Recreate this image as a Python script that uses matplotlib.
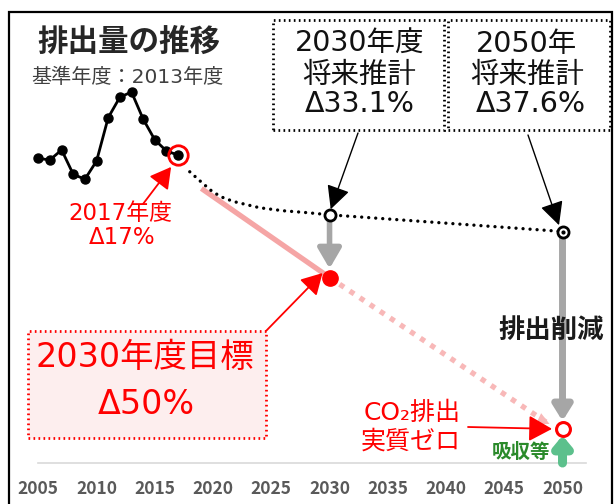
import matplotlib
matplotlib.use("Agg")
import matplotlib.pyplot as plt
from matplotlib.patches import Rectangle

plt.rcParams['font.family'] = ['DejaVu Sans', 'Noto Sans CJK JP']
JP = ['Noto Sans CJK JP', 'DejaVu Sans']
MIX = ['DejaVu Sans', 'Noto Sans CJK JP']

# ---------------- data ----------------
hist_years = [2005, 2006, 2007, 2008, 2009, 2010, 2011, 2012, 2013, 2014, 2015, 2016, 2017]
hist_vals = [82.1, 81.7, 84.4, 77.8, 76.5, 81.4, 93.1, 98.6, 100.0, 92.7, 87.1, 84.1, 83.0]

proj_years = [2018, 2019, 2020, 2021, 2022, 2024, 2026, 2028, 2030, 2050]
proj_vals = [78.5, 75.7, 73.0, 71.3, 70.3, 68.8, 68.0, 67.5, 66.9, 62.4]

target_years = [2030, 2050]
target_vals = [50.0, 9.2]          # 2030 target (Δ50%), 2050 net zero point

tick_years = [2005, 2010, 2015, 2020, 2025, 2030, 2035, 2040, 2045, 2050]
tick_labels = [str(y) for y in tick_years]

# ---------------- figure ----------------
W, H = 614, 504
fig = plt.figure(figsize=(W / 100, H / 100), dpi=100)
ax = fig.add_axes([0, 0, 1, 1])
ax.set_xlim(2001.71, 2054.42)
ax.set_ylim(-11.05, 124.8)
ax.axis('off')


def px(x, y):
    return (x / W, 1 - y / H)


FT = fig.transFigure
RED = '#ff0000'
PINK = '#f5a5a5'
PINK2 = '#f8b8b8'
GRAY = '#a6a6a6'
GREEN = '#5cc08c'

# outer frame
fig.patches.append(Rectangle(px(9, 506), (612 - 9) / W, (506 - 12) / H,
                             transform=FT, fill=False, ec='black', lw=1.6))

# baseline
ax.plot([2005, 2052], [0, 0], color='#d9d9d9', lw=1.2, zorder=1)

# tick labels
label_y = (463 - 489) / 3.71
for yr, lab in zip(tick_years, tick_labels):
    ax.text(yr, label_y, lab, ha='center', va='center', fontsize=12.5,
            fontweight='bold', color='#595959', family=['Noto Sans CJK JP', 'DejaVu Sans'])

# historical series
ax.plot(hist_years, hist_vals, color='black', lw=2, marker='o', ms=6.5, zorder=5)
ax.plot([hist_years[-1]], [hist_vals[-1]], marker='o', ms=14, mfc='none',
        mec=RED, mew=2, zorder=6)

# projection (dotted black curve)
ax.plot(proj_years, proj_vals, color='black', lw=2.4, linestyle=(0, (0.01, 2.1)),
        dash_capstyle='round', zorder=4)
ax.plot([2030], [proj_vals[proj_years.index(2030)]], marker='o', ms=8, mfc='white',
        mec='black', mew=2, zorder=6)
ax.plot([2050], [proj_vals[-1]], marker='o', ms=8, mfc='white', mec='black', mew=2, zorder=6)
ax.plot([2050], [proj_vals[-1]], marker='o', ms=2, color='black', zorder=7)

# pink target path
ax.plot([2019.0, target_years[0]], [74.0, target_vals[0]], color=PINK, lw=3.8,
        solid_capstyle='butt', zorder=3)
ax.plot([target_years[0], 2048.6], [target_vals[0], 11.0], color=PINK2, lw=3.8,
        linestyle=(0, (1.0, 1.3)), zorder=3)
ax.annotate('', xy=(2049.1, 10.2), xytext=(2048.3, 11.4),
            arrowprops=dict(arrowstyle='-|>', mutation_scale=22, color=PINK2, lw=0),
            zorder=3)

# gray arrows
ax.annotate('', xy=(2030, 52.4), xytext=(2030, 65.6),
            arrowprops=dict(arrowstyle='-|>,head_length=0.6,head_width=0.35',
                            mutation_scale=20, color=GRAY, lw=4, shrinkA=0, shrinkB=0),
            zorder=2)
ax.annotate('', xy=(2050, 11.3), xytext=(2050, 60.8),
            arrowprops=dict(arrowstyle='-|>,head_length=0.45,head_width=0.28',
                            mutation_scale=20, color=GRAY, lw=5, shrinkA=0, shrinkB=0),
            zorder=2)
# green arrow
ax.annotate('', xy=(2050, 7.4), xytext=(2050, 0),
            arrowprops=dict(arrowstyle='-|>,head_length=0.3,head_width=0.25',
                            mutation_scale=20, color=GREEN, lw=6.5, shrinkA=0, shrinkB=0),
            zorder=2)

# target markers
ax.plot([target_years[0]], [target_vals[0]], marker='o', ms=11, color=RED, zorder=6)
ax.plot([target_years[1]], [target_vals[1]], marker='o', ms=10, mfc='white', mec=RED,
        mew=2.2, zorder=6)

# ---------------- texts ----------------
fig.text(*px(129, 42), '排出量の推移', ha='center', va='center', fontsize=22,
         fontweight='bold', color='#262626', family=JP)
fig.text(*px(127, 77), '基準年度：2013年度', ha='center', va='center', fontsize=14.5,
         color='#404040', family=MIX)

fig.text(*px(120, 213), '2017年度', ha='center', va='center', fontsize=16.5, color=RED,
         family=MIX)
fig.text(*px(122, 238), 'Δ17%', ha='center', va='center', fontsize=16.5, color=RED,
         family=MIX)
ax.annotate('', xy=(hist_years[-1] - 0.6, hist_vals[-1] - 3.2), xycoords='data',
            xytext=px(143, 204), textcoords='figure fraction',
            arrowprops=dict(arrowstyle='-|>,head_length=0.8,head_width=0.45',
                            mutation_scale=16, color=RED, lw=1.3, shrinkA=0, shrinkB=0))

# 2030 target box
fig.patches.append(Rectangle(px(28, 438), (266 - 28) / W, (438 - 331) / H, transform=FT,
                             fc='#fdeeee', ec=RED, lw=2, linestyle=(0, (0.6, 1.2))))
fig.text(*px(145, 357), '2030年度目標', ha='center', va='center', fontsize=24, color=RED,
         family=MIX)
fig.text(*px(146, 405), 'Δ50%', ha='center', va='center', fontsize=24, color=RED,
         family=MIX)
ax.annotate('', xy=(target_years[0] - 0.6, target_vals[0] + 1.2), xycoords='data',
            xytext=px(266, 331), textcoords='figure fraction',
            arrowprops=dict(arrowstyle='-|>,head_length=0.8,head_width=0.45',
                            mutation_scale=16, color=RED, lw=1.3, shrinkA=0, shrinkB=0))

# projection boxes
for (x0, x1) in [(273, 444), (448, 610)]:
    fig.patches.append(Rectangle(px(x0, 130), (x1 - x0) / W, (130 - 20) / H, transform=FT,
                                 fill=False, ec='black', lw=2, linestyle=(0, (0.6, 1.2))))
for (x, y, s) in [(360, 44, '2030年度'), (359, 75, '将来推計'), (360, 104, 'Δ33.1%'),
                  (527, 44, '2050年'), (527, 75, '将来推計'), (531, 104, 'Δ37.6%')]:
    fig.text(*px(x, y), s, ha='center', va='center', fontsize=20.5, color='#111111',
             family=MIX)

ax.annotate('', xy=(2030.1, proj_vals[proj_years.index(2030)] + 1.5), xycoords='data',
            xytext=px(358, 133), textcoords='figure fraction',
            arrowprops=dict(arrowstyle='-|>,head_length=0.9,head_width=0.45',
                            mutation_scale=16, color='black', lw=1, shrinkA=0, shrinkB=0))
ax.annotate('', xy=(2049.7, proj_vals[-1] + 1.7), xycoords='data',
            xytext=px(528, 135), textcoords='figure fraction',
            arrowprops=dict(arrowstyle='-|>,head_length=0.9,head_width=0.45',
                            mutation_scale=16, color='black', lw=1, shrinkA=0, shrinkB=0))

# right side texts
fig.text(*px(551, 330), '排出削減', ha='center', va='center', fontsize=19,
         fontweight='bold', color='#1a1a1a', zorder=10, family=JP)
fig.text(*px(412, 413), 'CO₂排出', ha='center', va='center', fontsize=18, color=RED,
         family=MIX)
fig.text(*px(411, 442), '実質ゼロ', ha='center', va='center', fontsize=18, color=RED,
         family=JP)
ax.annotate('', xy=(2049.1, target_vals[1]), xycoords='data',
            xytext=px(468, 427), textcoords='figure fraction',
            arrowprops=dict(arrowstyle='-|>,head_length=0.9,head_width=0.5',
                            mutation_scale=16, color=RED, lw=1.3, shrinkA=0, shrinkB=0))
fig.text(*px(521, 452), '吸収等', ha='center', va='center', fontsize=14,
         fontweight='bold', color='#2a8a2a', family=JP)

fig.savefig('out.png', dpi=100)
